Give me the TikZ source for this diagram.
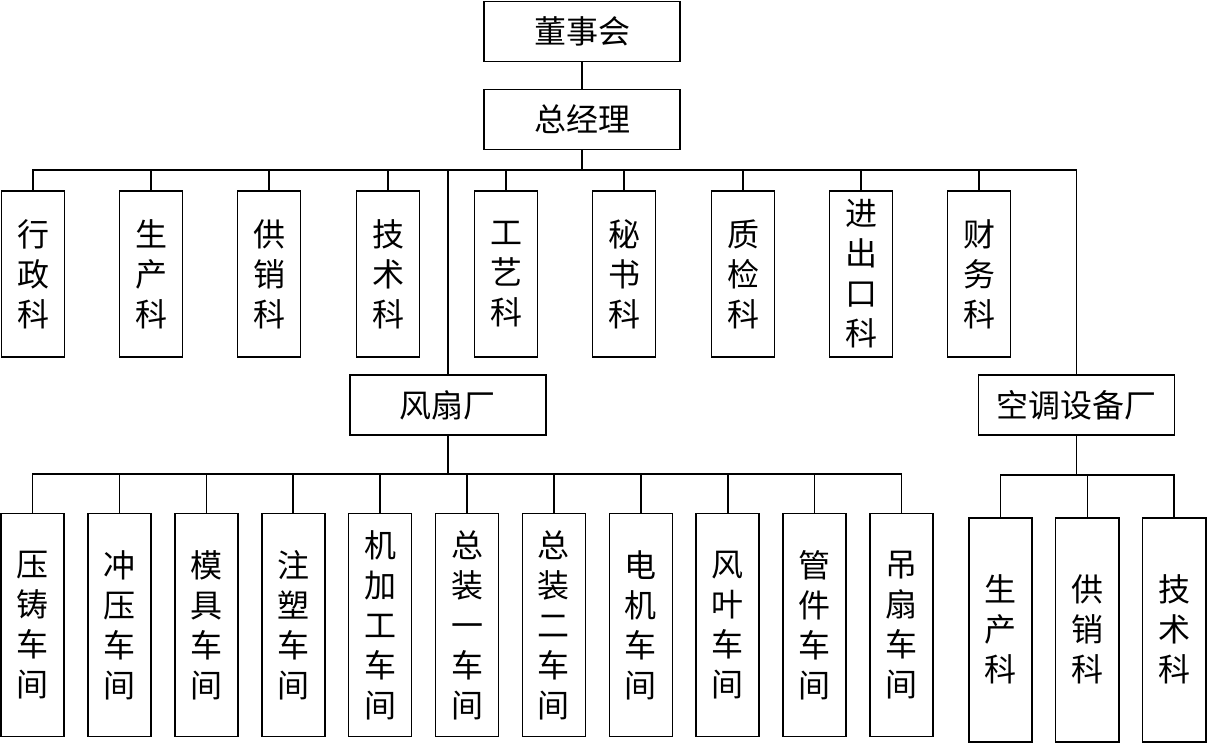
\documentclass[tikz,border=0pt]{standalone}
\usepackage{fontspec}
\newfontfamily\cjk{Noto Sans CJK SC}
\begin{document}
\begin{tikzpicture}[x=1pt,y=-1pt,
  line width=1.6pt,
  hbox/.style={draw, line width=1.6pt, minimum width=196pt, minimum height=60pt, inner sep=0pt,
    font=\cjk\fontsize{32}{40}\selectfont},
  vbox/.style={draw, line width=1.6pt, minimum width=63pt, inner sep=0pt, align=center,
    font=\cjk\fontsize{32}{40}\selectfont},
  sec/.style={vbox, minimum height=166pt},
  ws/.style={vbox, minimum height=223pt},
  ks/.style={vbox, minimum height=224pt, minimum width=63.5pt}]
\useasboundingbox (0,0) rectangle (1207,743);

\node[hbox] (dsh) at (582,31.5) {董事会};
\node[hbox] (zjl) at (582,119.5) {总经理};
\coordinate (b1) at (582,170);
\draw (dsh) -- (zjl);
\draw (zjl.south) -- (b1);

\node[sec] (s1) at (33,274) {行\\政\\科};
\node[sec] (s2) at (151,274) {生\\产\\科};
\node[sec] (s3) at (269,274) {供\\销\\科};
\node[sec] (s4) at (388,274) {技\\术\\科};
\node[sec] (s5) at (506,274) {工\\艺\\科};
\node[sec] (s6) at (624,274) {秘\\书\\科};
\node[sec] (s7) at (743,274) {质\\检\\科};
\node[sec] (s8) at (861,274) {进\\出\\口\\科};
\node[sec] (s9) at (979,274) {财\\务\\科};
\foreach \n in {s1,s2,s3,s4,s5,s6,s7,s8,s9} \draw (\n.north) |- (b1);

\node[hbox] (fs) at (447.8,405) {风扇厂};
\node[hbox] (kt) at (1076.6,405) {空调设备厂};
\draw (fs.north) |- (b1);
\draw (kt.north) |- (b1);

\coordinate (b2) at (447.8,474);
\draw (fs.south) -- (b2);
\node[ws] (w1) at (32.5,625) {压\\铸\\车\\间};
\node[ws] (w2) at (119.4,625) {冲\\压\\车\\间};
\node[ws] (w3) at (206.3,625) {模\\具\\车\\间};
\node[ws] (w4) at (293.2,625) {注\\塑\\车\\间};
\node[ws] (w5) at (380.1,625) {机\\加\\工\\车\\间};
\node[ws] (w6) at (467,625) {总\\装\\一\\车\\间};
\node[ws] (w7) at (553.9,625) {总\\装\\二\\车\\间};
\node[ws] (w8) at (640.8,625) {电\\机\\车\\间};
\node[ws] (w9) at (727.7,625) {风\\叶\\车\\间};
\node[ws] (w10) at (814.6,625) {管\\件\\车\\间};
\node[ws] (w11) at (901.5,625) {吊\\扇\\车\\间};
\foreach \n in {w1,w2,w3,w4,w5,w6,w7,w8,w9,w10,w11} \draw (\n.north) |- (b2);

\coordinate (b3) at (1076.6,475);
\draw (kt.south) -- (b3);
\node[ks] (k1) at (1000.5,629.7) {生\\产\\科};
\node[ks] (k2) at (1087.4,629.7) {供\\销\\科};
\node[ks] (k3) at (1174.2,629.7) {技\\术\\科};
\foreach \n in {k1,k2,k3} \draw (\n.north) |- (b3);
\end{tikzpicture}
\end{document}
